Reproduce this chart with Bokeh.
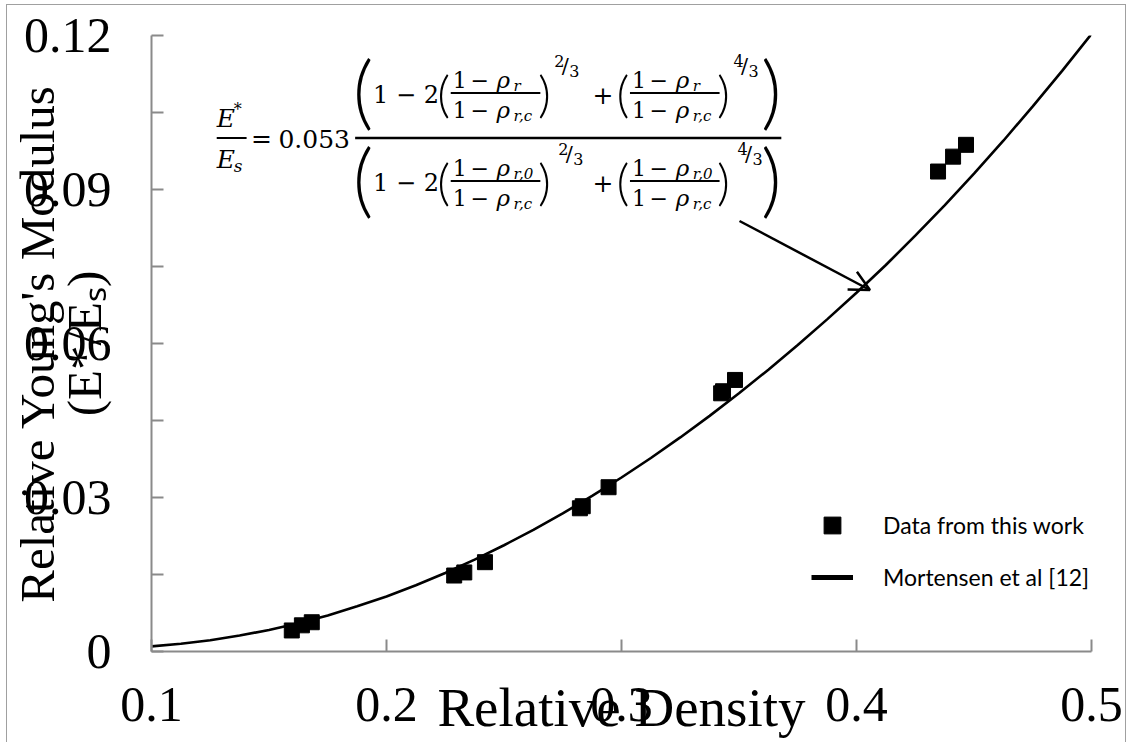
import math
from bokeh.plotting import figure
from bokeh.models import (Label, Arrow, OpenHead, Range1d, FixedTicker, Legend, LegendItem)
from bokeh.embed import file_html
from bokeh.resources import INLINE

# ---------------- data ----------------
density = [0.1597, 0.1640, 0.1682, 0.2288, 0.2331, 0.2419, 0.2823, 0.2835, 0.2945,
           0.3424, 0.3432, 0.3483, 0.4347, 0.4411, 0.4466]
modulus = [0.0041, 0.0051, 0.0057, 0.0148, 0.0154, 0.0174, 0.0279, 0.0283, 0.0320,
           0.0503, 0.0507, 0.0529, 0.0935, 0.0964, 0.0987]

curve_density = [0.1000, 0.1125, 0.1250, 0.1375, 0.1500, 0.1625, 0.1750, 0.1875, 0.2000,
                 0.2125, 0.2250, 0.2375, 0.2500, 0.2625, 0.2750, 0.2875, 0.3000, 0.3125,
                 0.3250, 0.3375, 0.3500, 0.3625, 0.3750, 0.3875, 0.4000, 0.4125, 0.4250,
                 0.4375, 0.4500, 0.4625, 0.4750, 0.4875, 0.5000]
curve_modulus = [0.0010, 0.0015, 0.0022, 0.0031, 0.0042, 0.0055, 0.0070, 0.0088, 0.0107,
                 0.0129, 0.0153, 0.0179, 0.0207, 0.0237, 0.0269, 0.0303, 0.0339, 0.0377,
                 0.0417, 0.0459, 0.0503, 0.0549, 0.0597, 0.0647, 0.0699, 0.0753, 0.0810,
                 0.0869, 0.0931, 0.0995, 0.1062, 0.1131, 0.1203]

x_ticks = [0.1, 0.2, 0.3, 0.4, 0.5]
y_ticks = [0, 0.03, 0.06, 0.09, 0.12]
y_minor = [0.015, 0.045, 0.075, 0.105]

series_names = ["Data from this work", "Mortensen et al [12]"]
x_title = "Relative Density"
y_title = "Relative Young's Modulus\n(E*/E\u209b)"

X_MIN, X_MAX = 0.1, 0.5
Y_MIN, Y_MAX = 0.0, 0.12

# ---------------- layout (window pixels) ----------------
OX, OY = 7.5, 5.5           # figure canvas origin in the window (margin + border)
W, H = 1120, 738
FL, FR, FT, FB = 147.5, 1091.5, 35.5, 651.5   # frame edges in window pixels
AX = "#8a8a8a"
BC = "#a0a0a0"

p = figure(width=W, height=H, x_range=Range1d(X_MIN, X_MAX), y_range=Range1d(Y_MIN, Y_MAX),
           output_backend="svg", toolbar_location=None,
           min_border_left=int(FL - OX), min_border_right=int(OX + W - FR),
           min_border_top=int(FT - OY), min_border_bottom=int(OY + H - FB))
p.styles = {"margin-left": "6px", "margin-top": "4px",
            "border-left": f"1.5px solid {BC}", "border-top": f"1.5px solid {BC}",
            "border-right": f"1.5px solid {BC}"}
p.background_fill_color = "white"
p.border_fill_color = "white"
p.outline_line_color = None
p.grid.visible = False

for ax in (p.xaxis[0], p.yaxis[0]):
    ax.axis_line_color = AX
    ax.axis_line_width = 2
    ax.major_tick_line_color = AX
    ax.minor_tick_line_color = AX
    ax.major_tick_line_width = 2
    ax.minor_tick_line_width = 2
    ax.major_tick_in = 12
    ax.major_tick_out = 0
    ax.minor_tick_in = 12
    ax.minor_tick_out = 0
    ax.major_label_text_font = "Liberation Serif"
    ax.major_label_text_font_size = "50px"
    ax.major_label_text_color = "black"
    ax.axis_label_text_font = "Liberation Serif"
    ax.axis_label_text_font_style = "normal"
    ax.axis_label_text_color = "black"

xa, ya = p.xaxis[0], p.yaxis[0]
xa.ticker = FixedTicker(ticks=x_ticks, minor_ticks=[])
ya.ticker = FixedTicker(ticks=y_ticks, minor_ticks=y_minor)
xa.major_label_overrides = {v: f"{v:g}" for v in x_ticks}
ya.major_label_overrides = {v: f"{v:g}" for v in y_ticks}
xa.major_label_standoff = 36
ya.major_label_standoff = 40

xa.axis_label = x_title
xa.axis_label_text_font_size = "55px"
xa.axis_label_standoff = -47

ya.axis_label = y_title
ya.axis_label_text_font_size = "49px"
ya.axis_label_text_line_height = 0.85
ya.axis_label_standoff = -91


def dx(px):
    return X_MIN + (px - FL) * (X_MAX - X_MIN) / (FR - FL)


def dy(py):
    return Y_MIN + (FB - py) * (Y_MAX - Y_MIN) / (FB - FT)


def put(px, py, text, size, font="DejaVu Serif", style="normal", align="left",
        baseline="middle", angle=0.0):
    p.add_layout(Label(x=dx(px), y=dy(py), text=text, text_font=font,
                       text_font_size=f"{size}px", text_font_style=style,
                       text_align=align, text_baseline=baseline, angle=angle,
                       text_color="black"))


def seg(x0, y0, x1, y1, w=2.0, color="black"):
    p.add_layout(Arrow(x_start=dx(x0), y_start=dy(y0), x_end=dx(x1), y_end=dy(y1),
                       start=None, end=None, line_width=w, line_color=color))


# ---------------- series ----------------
line_r = p.line(curve_density, curve_modulus, line_color="black", line_width=2.6)
pts_r = p.scatter(density, modulus, marker="square", size=15, fill_color="black",
                  line_color="black")
# legend sample is drawn thicker in the original legend (no visible data)
legend_line = p.line([float("nan")], [float("nan")], line_color="black", line_width=5)

legend = Legend(items=[LegendItem(label=series_names[0], renderers=[pts_r]),
                       LegendItem(label=series_names[1], renderers=[legend_line])],
                location=(660, 53), orientation="vertical",
                glyph_width=42, glyph_height=42, label_height=42, spacing=10,
                label_standoff=30, padding=0, margin=0,
                label_text_font="Lato", label_text_font_size="23px",
                label_text_color="black", border_line_color=None,
                background_fill_alpha=0)
p.add_layout(legend)

# ---------------- equation ----------------
PAREN_FONT = "Lato Light"
put(213, 118, "E", 25, style="italic")
put(230, 109, "*", 16)
seg(213, 138, 243, 138, 2)
put(213, 159, "E", 25, style="italic")
put(230, 166, "s", 17, style="italic")
put(258, 138, "=", 25, align="center")
put(275, 139, "0.053", 25)
seg(352, 138, 780, 138, 2.5)

for cy, top_sub, shift in ((95, "r", 0), (183, "r,0", 4)):
    put(360, cy - 6, "(", 80, font=PAREN_FONT, align="center")
    put(770, cy - 6, ")", 80, font=PAREN_FONT, align="center")
    put(370, cy, "1 \u2212 2", 24)
    put(601, cy, "+", 25, align="center")
    for x0, expo in ((448, "2"), (628, "4")):
        put(x0 - 7, cy - 2, "(", 50, font=PAREN_FONT, align="center")
        put(x0 + 94, cy - 2, ")", 50, font=PAREN_FONT, align="center")
        for ly, sub in ((cy - 15, top_sub), (cy + 15, "r,c")):
            put(x0 + 2, ly, "1", 22)
            put(x0 + 29, ly, "\u2212", 22, align="center")
            put(x0 + 46, ly, "\u03c1", 23, style="italic")
            put(x0 + 63, ly + 6, sub, 15, style="italic")
        seg(x0, cy - 2, x0 + 90, cy - 2, 1.8)
        ex = x0 + 104 + shift
        put(ex, cy - 34, expo, 16)
        put(ex + 11, cy - 29, "/", 21, align="center")
        put(ex + 15, cy - 24, "3", 16)

# arrow from equation to curve
p.add_layout(Arrow(x_start=dx(738), y_start=dy(221), x_end=dx(869), y_end=dy(290),
                   line_width=2.5, line_color="black",
                   end=OpenHead(size=20, line_width=2.5, line_color="black")))

open("out.html", "w").write(file_html(p, INLINE))
